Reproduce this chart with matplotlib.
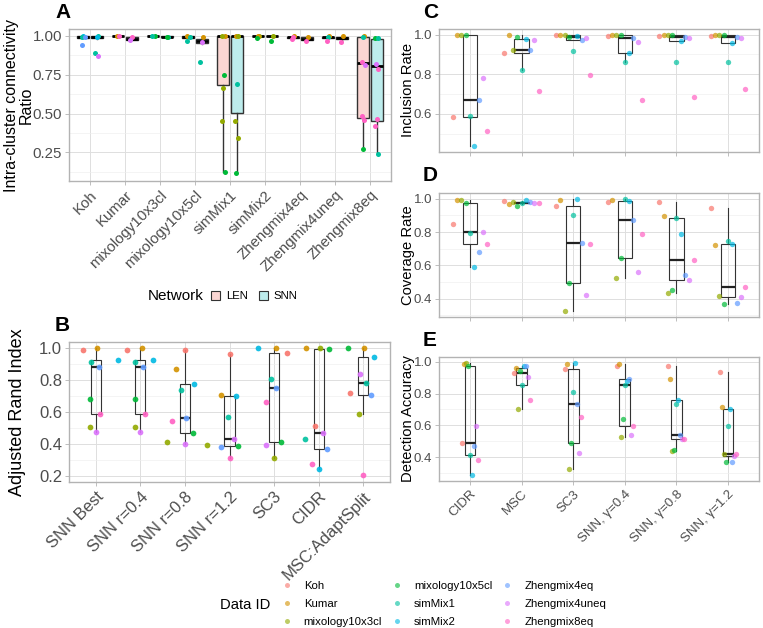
import matplotlib.pyplot as plt
import numpy as np
from matplotlib.lines import Line2D
from matplotlib.patches import Patch

plt.rcParams['font.family'] = ['Liberation Sans', 'DejaVu Sans']

FIG_W, FIG_H = 763, 628

DATA_IDS = ['Koh', 'Kumar', 'mixology10x3cl', 'mixology10x5cl', 'simMix1', 'simMix2',
            'Zhengmix4eq', 'Zhengmix4uneq', 'Zhengmix8eq']
DATA_COLOURS = ['#F8766D', '#D39200', '#93AA00', '#00BA38', '#00C19F', '#00B9E3',
                '#619CFF', '#DB72FB', '#FF61C3']

NETWORKS = ['LEN', 'SNN']
NETWORK_FILLS = ['#FBD6D3', '#BDECEC']

# panel A: box statistics per dataset (whisker low, q1, median, q3, whisker high)
A_LEN_LO = [0.985, 0.998, 0.998, 0.985, 0.126, 0.985, 0.980, 0.985, 0.270]
A_LEN_Q1 = [0.988, 0.998, 0.998, 0.988, 0.685, 0.998, 0.985, 0.988, 0.474]
A_LEN_MED = [0.995, 1.000, 1.000, 0.992, 1.000, 1.000, 0.990, 0.990, 0.825]
A_LEN_Q3 = [1.000, 1.000, 1.000, 0.997, 1.000, 1.000, 0.995, 0.995, 0.996]
A_LEN_HI = [1.000, 1.000, 1.000, 1.000, 1.000, 1.000, 1.000, 1.000, 1.000]

A_SNN_LO = [0.980, 0.975, 0.990, 0.950, 0.118, 0.995, 0.965, 0.960, 0.240]
A_SNN_Q1 = [0.985, 0.975, 0.993, 0.955, 0.506, 0.998, 0.975, 0.978, 0.449]
A_SNN_MED = [0.990, 0.980, 0.995, 0.970, 1.000, 1.000, 0.980, 0.985, 0.804]
A_SNN_Q3 = [1.000, 0.990, 0.997, 0.980, 1.000, 1.000, 0.990, 0.992, 0.979]
A_SNN_HI = [1.000, 0.995, 1.000, 0.995, 1.000, 1.000, 1.000, 1.000, 0.985]

# panel A: individual points (dataset index, network index, value, colour index)
A_PT_CAT = [0, 0, 0, 0, 0, 0, 0, 0,
            1, 1, 1, 1,
            2, 2, 2, 2,
            3, 3, 3, 3, 3, 3,
            4, 4, 4, 4, 4, 4, 4, 4, 4, 4, 4, 4,
            5, 5, 5, 5, 5,
            6, 6, 6, 6, 6,
            7, 7, 7, 7, 7,
            8, 8, 8, 8, 8, 8, 8, 8, 8, 8, 8, 8, 8, 8]
A_PT_NET = [0, 0, 0, 0, 1, 1, 1, 1,
            0, 0, 1, 1,
            0, 0, 1, 1,
            0, 0, 0, 1, 1, 1,
            0, 0, 0, 0, 0, 0, 1, 1, 1, 1, 1, 1,
            0, 0, 0, 1, 1,
            0, 0, 0, 1, 1,
            0, 0, 0, 1, 1,
            0, 0, 0, 0, 0, 0, 0, 1, 1, 1, 1, 1, 1, 1]
A_PT_VAL = [1.000, 0.995, 0.990, 0.940, 1.000, 0.990, 0.889, 0.872,
            1.000, 1.000, 0.995, 0.975,
            1.000, 1.000, 0.995, 0.990,
            1.000, 0.995, 0.970, 0.995, 0.960, 0.830,
            1.000, 1.000, 0.751, 0.665, 0.452, 0.126, 1.000, 1.000, 0.690, 0.450, 0.340, 0.118,
            1.000, 1.000, 0.985, 1.000, 0.964,
            1.000, 0.990, 0.980, 0.995, 0.965,
            1.000, 0.995, 0.965, 1.000, 0.960,
            1.000, 0.995, 0.830, 0.815, 0.485, 0.457, 0.272, 0.985, 0.985, 0.820, 0.790, 0.465, 0.420, 0.240]
A_PT_COL = [5, 4, 6, 6, 4, 5, 4, 7,
            1, 8, 8, 7,
            3, 4, 4, 3,
            1, 4, 4, 1, 7, 4,
            1, 2, 3, 2, 2, 3, 1, 2, 4, 2, 2, 3,
            2, 1, 3, 2, 3,
            1, 8, 8, 1, 8,
            1, 4, 8, 1, 8,
            1, 4, 8, 7, 8, 8, 3, 3, 4, 7, 8, 8, 8, 4]

# panel B: Adjusted Rand Index, rows = methods, columns = DATA_IDS
B_METHODS = ['SNN Best', 'SNN r=0.4', 'SNN r=0.8', 'SNN r=1.2', 'SC3', 'CIDR', 'MSC:AdaptSplit']
B_ARI = [
    [0.990, 1.000, 0.505, 0.680, 0.913, 0.928, 0.880, 0.473, 0.590],
    [0.990, 1.000, 0.505, 0.680, 0.913, 0.928, 0.880, 0.473, 0.590],
    [0.990, 0.871, 0.412, 0.469, 0.740, 0.776, 0.565, 0.400, 0.543],
    [0.964, 0.708, 0.395, 0.384, 0.570, 0.700, 0.378, 0.433, 0.312],
    [0.970, 1.000, 0.310, 0.410, 0.807, 1.000, 0.750, 0.393, 0.660],
    [0.510, 1.000, 1.000, 0.995, 0.430, 0.240, 0.370, 0.465, 0.272],
    [0.720, 1.000, 0.590, 1.000, 0.780, 0.945, 0.708, 0.840, 0.206],
]
B_JITTER = [
    [-0.29, 0.03, -0.13, -0.12, -0.10, 0.50, 0.08, 0.00, 0.10],
    [-0.30, 0.03, -0.13, -0.12, -0.11, 0.28, 0.07, 0.00, 0.10],
    [0.00, -0.19, -0.40, 0.19, -0.08, 0.20, 0.03, 0.00, -0.28],
    [0.00, -0.18, -0.51, 0.19, -0.04, 0.15, -0.20, 0.10, 0.00],
    [0.28, 0.04, 0.00, 0.16, -0.07, -0.35, 0.05, -0.18, -0.19],
    [-0.08, -0.28, 0.03, 0.24, -0.30, 0.00, 0.19, 0.09, -0.16],
    [-0.30, 0.02, -0.10, -0.34, 0.07, 0.25, 0.17, -0.08, 0.00],
]

# panels C-E: rows = methods, columns = DATA_IDS
CDE_METHODS = ['CIDR', 'MSC', 'SC3', 'SNN, \u03b3=0.4', 'SNN, \u03b3=0.8', 'SNN, \u03b3=1.2']
INCLUSION_RATE = [
    [0.583, 1.000, 1.000, 0.997, 0.590, 0.436, 0.672, 0.782, 0.513],
    [0.905, 1.000, 0.921, 0.988, 0.819, 0.975, 0.921, 0.972, 0.717],
    [0.997, 1.000, 1.000, 0.990, 0.918, 0.995, 0.972, 0.985, 0.797],
    [0.993, 1.000, 1.000, 1.000, 0.861, 0.905, 0.985, 0.960, 0.670],
    [0.995, 1.000, 1.000, 1.000, 0.861, 0.965, 0.990, 0.982, 0.687],
    [0.993, 1.000, 1.000, 0.998, 0.861, 0.958, 0.987, 0.982, 0.725],
]
COVERAGE_RATE = [
    [0.848, 0.992, 0.992, 0.976, 0.792, 0.588, 0.682, 0.802, 0.726],
    [0.986, 0.966, 0.980, 0.956, 0.976, 0.994, 0.980, 0.974, 0.976],
    [0.954, 0.990, 0.326, 0.492, 0.900, 1.000, 0.736, 0.424, 0.728],
    [0.978, 0.990, 0.526, 0.642, 1.000, 0.988, 0.872, 0.558, 0.786],
    [0.978, 0.896, 0.436, 0.450, 0.882, 0.790, 0.542, 0.512, 0.630],
    [0.946, 0.720, 0.418, 0.370, 0.748, 0.730, 0.374, 0.412, 0.470],
]
DETECTION_ACCURACY = [
    [0.488, 0.990, 0.994, 0.973, 0.410, 0.286, 0.472, 0.596, 0.380],
    [0.930, 0.962, 0.700, 0.940, 0.855, 0.973, 0.975, 0.903, 0.758],
    [0.954, 0.987, 0.326, 0.488, 0.810, 0.994, 0.733, 0.423, 0.655],
    [0.973, 0.990, 0.526, 0.640, 0.857, 0.882, 0.890, 0.537, 0.598],
    [0.973, 0.895, 0.438, 0.446, 0.733, 0.760, 0.537, 0.512, 0.516],
    [0.939, 0.718, 0.418, 0.368, 0.598, 0.700, 0.370, 0.408, 0.419],
]

BORDER_GREY = '#B3B3B3'
TEXT_GREY = '#4D4D4D'
LINE_GREY = '#333333'


def add_panel(fig, left, right, top, bottom):
    return fig.add_axes([left / FIG_W, 1 - bottom / FIG_H, (right - left) / FIG_W, (bottom - top) / FIG_H])


def style_axes(ax, yticks, yminor, fmt, tick_size):
    ax.set_facecolor('white')
    for spine in ax.spines.values():
        spine.set_color(BORDER_GREY)
        spine.set_linewidth(1.0)
    ax.set_yticks(yticks)
    ax.set_yticklabels([fmt.format(t) for t in yticks])
    ax.set_yticks(yminor, minor=True)
    ax.grid(True, which='major', color='#DEDEDE', linewidth=0.7)
    ax.grid(True, which='minor', axis='y', color='#EEEEEE', linewidth=0.45)
    ax.set_axisbelow(True)
    ax.tick_params(which='major', length=3, width=0.6, color=BORDER_GREY, labelcolor=TEXT_GREY,
                   labelsize=tick_size, pad=2)
    ax.tick_params(which='minor', length=0)


def box_stats(lo, q1, med, q3, hi):
    return [dict(whislo=a, q1=b, med=c, q3=d, whishi=e, fliers=[]) for a, b, c, d, e in zip(lo, q1, med, q3, hi)]


def draw_method_boxes(ax, values, width, dodge_step, alpha):
    values = np.asarray(values)
    positions = np.arange(1, values.shape[0] + 1)
    ax.boxplot(values.T, positions=positions, widths=width, showfliers=False, showcaps=False,
               patch_artist=True,
               boxprops=dict(facecolor='none', edgecolor=LINE_GREY, linewidth=0.8),
               whiskerprops=dict(color=LINE_GREY, linewidth=0.8),
               medianprops=dict(color='#222222', linewidth=1.6))
    for k, colour in enumerate(DATA_COLOURS):
        ax.scatter(positions + (k - 4) * dodge_step, values[:, k], s=15, color=colour,
                   alpha=alpha, linewidths=0, zorder=3)
    ax.set_xlim(0.4, values.shape[0] + 0.6)
    ax.set_xticks(positions)


def main():
    fig = plt.figure(figsize=(FIG_W / 100, FIG_H / 100), dpi=100)

    # ---- panel A
    ax_a = add_panel(fig, 69, 391, 29, 181)
    positions = np.arange(1, len(DATA_IDS) + 1)
    stats_sets = [box_stats(A_LEN_LO, A_LEN_Q1, A_LEN_MED, A_LEN_Q3, A_LEN_HI),
                  box_stats(A_SNN_LO, A_SNN_Q1, A_SNN_MED, A_SNN_Q3, A_SNN_HI)]
    for net, stats in enumerate(stats_sets):
        shift = -0.19 if net == 0 else 0.19
        ax_a.bxp(stats, positions=positions + shift, widths=0.35, showfliers=False, showcaps=False,
                 patch_artist=True,
                 boxprops=dict(facecolor=NETWORK_FILLS[net], edgecolor=LINE_GREY, linewidth=1.0),
                 whiskerprops=dict(color=LINE_GREY, linewidth=1.0),
                 medianprops=dict(color='black', linewidth=2.0))
    jitter_cycle = [0.0, -0.05, 0.05, -0.025, 0.025]
    for i, (cat, net, val, col) in enumerate(zip(A_PT_CAT, A_PT_NET, A_PT_VAL, A_PT_COL)):
        x = cat + 1 + (-0.19 if net == 0 else 0.19) + jitter_cycle[i % len(jitter_cycle)]
        ax_a.scatter(x, val, s=13, color=DATA_COLOURS[col], linewidths=0, zorder=3)
    ax_a.set_xlim(0.4, len(DATA_IDS) + 0.6)
    ax_a.set_ylim(0.0655, 1.0445)
    ax_a.set_xticks(positions)
    ax_a.set_xticklabels(DATA_IDS, rotation=45, ha='right', rotation_mode='anchor', fontsize=10.4)
    style_axes(ax_a, [0.25, 0.5, 0.75, 1.0], [0.125, 0.375, 0.625, 0.875], '{:.2f}', 10.8)

    # ---- panel B
    ax_b = add_panel(fig, 69, 390, 342, 482)
    ari = np.asarray(B_ARI)
    b_pos = np.arange(1, len(B_METHODS) + 1)
    ax_b.boxplot(ari.T, positions=b_pos, widths=0.23, showfliers=False, showcaps=False,
                 patch_artist=True,
                 boxprops=dict(facecolor='none', edgecolor=LINE_GREY, linewidth=0.8),
                 whiskerprops=dict(color=LINE_GREY, linewidth=0.8),
                 medianprops=dict(color='#222222', linewidth=1.6))
    jitter = np.asarray(B_JITTER)
    for k, colour in enumerate(DATA_COLOURS):
        ax_b.scatter(b_pos + jitter[:, k], ari[:, k], s=17, color=colour, alpha=0.9,
                     linewidths=0, zorder=3)
    ax_b.set_xlim(0.4, len(B_METHODS) + 0.6)
    ax_b.set_ylim(0.16, 1.04)
    ax_b.set_xticks(b_pos)
    ax_b.set_xticklabels(B_METHODS, rotation=45, ha='right', rotation_mode='anchor', fontsize=10)
    style_axes(ax_b, [0.2, 0.4, 0.6, 0.8, 1.0], [0.3, 0.5, 0.7, 0.9], '{:.1f}', 12)

    # ---- panels C, D, E
    ax_c = add_panel(fig, 439, 759, 29, 152)
    draw_method_boxes(ax_c, INCLUSION_RATE, 0.28, 0.083, 0.7)
    ax_c.set_ylim(0.407, 1.028)
    ax_c.set_xticklabels([])
    style_axes(ax_c, [0.6, 0.8, 1.0], [0.5, 0.7, 0.9], '{:.1f}', 9.5)

    ax_d = add_panel(fig, 439, 759, 193, 317)
    draw_method_boxes(ax_d, COVERAGE_RATE, 0.28, 0.083, 0.7)
    ax_d.set_ylim(0.291, 1.034)
    ax_d.set_xticklabels([])
    style_axes(ax_d, [0.4, 0.6, 0.8, 1.0], [0.3, 0.5, 0.7, 0.9], '{:.1f}', 9.5)

    ax_e = add_panel(fig, 439, 759, 357, 481)
    draw_method_boxes(ax_e, DETECTION_ACCURACY, 0.21, 0.039, 0.7)
    ax_e.set_ylim(0.249, 1.031)
    ax_e.set_xticklabels(CDE_METHODS, rotation=45, ha='right', rotation_mode='anchor', fontsize=10)
    style_axes(ax_e, [0.4, 0.6, 0.8, 1.0], [0.3, 0.5, 0.7, 0.9], '{:.1f}', 9.5)

    # ---- axis titles
    def fig_label(x, y, text, size):
        fig.text(x / FIG_W, 1 - y / FIG_H, text, rotation=90, ha='center', va='center',
                 multialignment='center', fontsize=size, linespacing=1.0)

    fig_label(19, 105, 'Intra-cluster connectivity\nRatio', 11.5)
    fig_label(18, 412, 'Adjusted Rand Index', 13)
    fig_label(408, 90, 'Inclusion Rate', 10.6)
    fig_label(408, 255, 'Coverage Rate', 10.6)
    fig_label(408, 419, 'Detection Accuracy', 10.6)

    # ---- panel letters
    for letter, x, y in [('A', 55, 13), ('B', 55, 325), ('C', 423, 13), ('D', 423, 176), ('E', 423, 340)]:
        fig.text(x / FIG_W, 1 - y / FIG_H, letter, ha='left', va='center', fontsize=15, fontweight='bold')

    # ---- Network legend
    fig.text(148 / FIG_W, 1 - 296 / FIG_H, 'Network', ha='left', va='center', fontsize=11)
    net_handles = [Patch(facecolor=fill, edgecolor=LINE_GREY, linewidth=0.8) for fill in NETWORK_FILLS]
    fig.legend(net_handles, NETWORKS, loc='center left', bbox_to_anchor=(211 / FIG_W, 1 - 296 / FIG_H),
               ncol=2, frameon=False, fontsize=8.2, handlelength=0.8, handleheight=0.8,
               handletextpad=0.5, columnspacing=1.0, borderpad=0, borderaxespad=0)

    # ---- Data ID legend
    fig.text(220 / FIG_W, 1 - 605 / FIG_H, 'Data ID', ha='left', va='center', fontsize=10.6)
    id_handles = [Line2D([], [], linestyle='none', marker='o', markersize=3.6, color=c,
                         markeredgewidth=0, alpha=0.6) for c in DATA_COLOURS]
    fig.legend(id_handles, DATA_IDS, loc='center left', bbox_to_anchor=(281 / FIG_W, 1 - 604 / FIG_H),
               ncol=3, frameon=False, fontsize=8.2, handlelength=1.0, handletextpad=1.0,
               columnspacing=0.8, labelspacing=0.68, borderpad=0, borderaxespad=0)

    fig.savefig('out.png', dpi=100, facecolor='white')


if __name__ == '__main__':
    main()
